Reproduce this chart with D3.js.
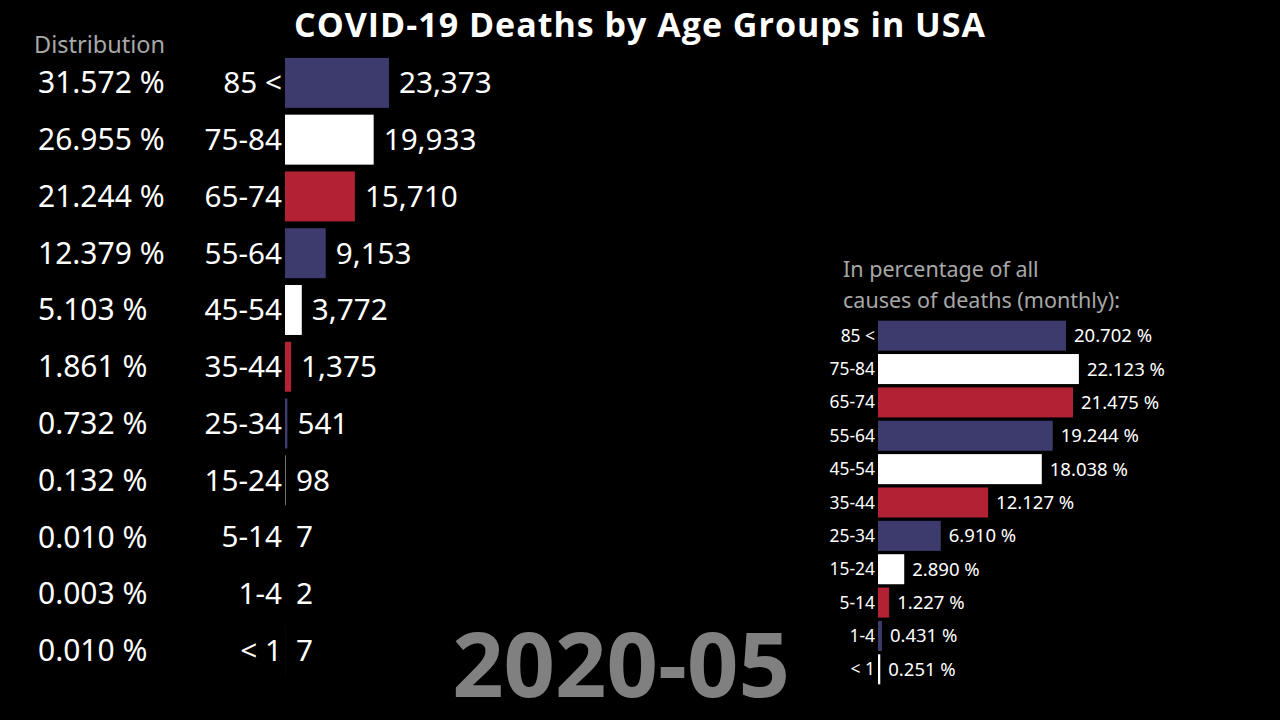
<!DOCTYPE html>
<html><head><meta charset="utf-8">
<script src="https://cdn.jsdelivr.net/npm/d3@7"></script>
<style>html,body{margin:0;padding:0;background:#000;}svg{display:block;}</style>
</head><body>
<svg id="c" width="1280" height="720"></svg>
<script>
const ageGroups = ["85 <","75-84","65-74","55-64","45-54","35-44","25-34","15-24","5-14","1-4","< 1"];
const deaths = [23373,19933,15710,9153,3772,1375,541,98,7,2,7];
const distribution = [31.572,26.955,21.244,12.379,5.103,1.861,0.732,0.132,0.010,0.003,0.010];
const pctOfAllCauses = [20.702,22.123,21.475,19.244,18.038,12.127,6.910,2.890,1.227,0.431,0.251];
const palette = ["#3d3a6e","#ffffff","#b22234"];
const title = "COVID-19 Deaths by Age Groups in USA";
const period = "2020-05";

const svg = d3.select("#c");
const font = "'Noto Sans', sans-serif";

svg.append("text").attr("x",640).attr("y",37).attr("text-anchor","middle")
  .attr("font-family","'Open Sans', sans-serif").attr("font-weight",700).attr("font-size",34)
  .attr("letter-spacing",1).attr("fill","#fff").text(title);

// Left chart
const yL = d3.scaleBand().domain(ageGroups).range([54.5, 679]).paddingInner(0.12).paddingOuter(0.06);
const xL = d3.scaleLinear().domain([0,25000]).range([285, 396.2]);
const color = d3.scaleOrdinal().domain(ageGroups).range(palette);

svg.append("text").attr("x",34).attr("y",53).attr("font-family",font).attr("font-size",23.5)
  .attr("fill","#a8a8a8").text("Distribution");

const gL = svg.append("g");
gL.selectAll("rect").data(ageGroups).join("rect")
  .attr("x",xL(0)).attr("y",d=>yL(d)).attr("height",yL.bandwidth())
  .attr("width",(d,i)=>xL(deaths[i])-xL(0))
  .attr("fill",d=>color(d));
gL.selectAll("text.age").data(ageGroups).join("text").attr("class","age")
  .attr("x",282).attr("y",d=>yL(d)+yL.bandwidth()/2).attr("dy","0.35em")
  .attr("text-anchor","end").attr("font-family",font).attr("font-size",29.7).attr("fill","#fff")
  .text(d=>d);
gL.selectAll("text.val").data(ageGroups).join("text").attr("class","val")
  .attr("x",(d,i)=>Math.max(xL(deaths[i]), xL(0)+1)+10).attr("y",d=>yL(d)+yL.bandwidth()/2).attr("dy","0.35em")
  .attr("font-family",font).attr("font-size",29.7).attr("fill","#fff")
  .text((d,i)=>d3.format(",")(deaths[i]));
gL.selectAll("text.pct").data(ageGroups).join("text").attr("class","pct")
  .attr("x",38).attr("y",d=>yL(d)+yL.bandwidth()/2).attr("dy","0.35em")
  .attr("font-family",font).attr("font-size",30).attr("fill","#fff")
  .text((d,i)=>distribution[i].toFixed(3)+" %");

// Period label
svg.append("text").attr("x",621).attr("y",697).attr("text-anchor","middle")
  .attr("font-family","'Open Sans', sans-serif").attr("font-weight",700).attr("font-size",90)
  .attr("fill","#808080").text(period);

// Right chart
svg.append("text").attr("x",843).attr("y",277).attr("font-family",font).attr("font-size",21.5)
  .attr("fill","#a8a8a8").text("In percentage of all");
svg.append("text").attr("x",843).attr("y",308).attr("font-family",font).attr("font-size",21.5)
  .attr("fill","#a8a8a8").text("causes of deaths (monthly):");

const yR = d3.scaleBand().domain(ageGroups).range([319, 686]).paddingInner(0.1).paddingOuter(0.05);
const xR = d3.scaleLinear().domain([0,25]).range([878, 878+227]);
const gR = svg.append("g");
gR.selectAll("rect").data(ageGroups).join("rect")
  .attr("x",xR(0)).attr("y",d=>yR(d)).attr("height",yR.bandwidth())
  .attr("width",(d,i)=>xR(pctOfAllCauses[i])-xR(0))
  .attr("fill",d=>color(d));
gR.selectAll("text.age").data(ageGroups).join("text").attr("class","age")
  .attr("x",875).attr("y",d=>yR(d)+yR.bandwidth()/2).attr("dy","0.35em")
  .attr("text-anchor","end").attr("font-family",font).attr("font-size",17.4).attr("fill","#fff")
  .text(d=>d);
gR.selectAll("text.val").data(ageGroups).join("text").attr("class","val")
  .attr("x",(d,i)=>xR(pctOfAllCauses[i])+8).attr("y",d=>yR(d)+yR.bandwidth()/2).attr("dy","0.35em")
  .attr("font-family",font).attr("font-size",18.5).attr("fill","#fff")
  .text((d,i)=>pctOfAllCauses[i].toFixed(3)+" %");
</script>
</body></html>
